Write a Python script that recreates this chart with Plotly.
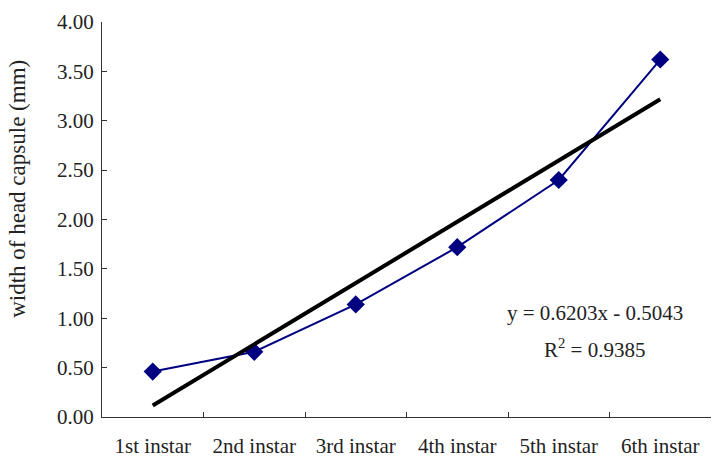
import plotly.graph_objects as go

categories = ["1st instar", "2nd instar", "3rd instar", "4th instar", "5th instar", "6th instar"]
widths = [0.46, 0.66, 1.14, 1.72, 2.40, 3.62]
slope = 0.6203
intercept = -0.5043
r2 = 0.9385
y_ticks = [0, 0.5, 1.0, 1.5, 2.0, 2.5, 3.0, 3.5, 4.0]

trend_x = [categories[0], categories[-1]]
trend_y = [slope * 1 + intercept, slope * len(categories) + intercept]

FONT = "Liberation Serif, Times New Roman, serif"
TXT = "#222"

fig = go.Figure()
fig.add_trace(go.Scatter(
    x=categories, y=widths, mode="lines+markers",
    line=dict(color="#000080", width=2),
    marker=dict(symbol="diamond", size=14, color="#000080"),
    showlegend=False,
))
fig.add_trace(go.Scatter(
    x=trend_x, y=trend_y, mode="lines",
    line=dict(color="black", width=4),
    showlegend=False,
))

fig.update_layout(
    width=721, height=468,
    margin=dict(l=102, r=10, t=17, b=51),
    paper_bgcolor="white", plot_bgcolor="white",
    font=dict(family=FONT, size=21, color=TXT),
    xaxis=dict(
        type="category", categoryorder="array", categoryarray=categories,
        range=[-0.5, len(categories) - 0.5], autorange=False,
        tickson="boundaries", ticks="inside", ticklen=5, tickcolor="#333",
        showline=True, linecolor="#333", linewidth=1, showgrid=False,
        zeroline=False, ticklabelstandoff=10,
        tickfont=dict(family=FONT, size=21, color=TXT),
    ),
    yaxis=dict(
        range=[0, 4], autorange=False, tickvals=y_ticks, tickformat=".2f",
        ticks="inside", ticklen=5, tickcolor="#333",
        showline=True, linecolor="#333", linewidth=1, showgrid=False,
        zeroline=False, ticklabelstandoff=3,
        tickfont=dict(family=FONT, size=21, color=TXT),
    ),
    annotations=[
        dict(text="width of head capsule (mm)", xref="paper", yref="paper",
             x=-0.1380, y=0.5775, textangle=-90, showarrow=False,
             font=dict(family=FONT, size=23, color=TXT),
             xanchor="center", yanchor="middle"),
        dict(text=f"y = {slope:.4f}x - {abs(intercept):.4f}",
             xref="paper", yref="paper", x=0.8095, y=0.2625, showarrow=False,
             font=dict(family=FONT, size=21, color=TXT),
             xanchor="center", yanchor="middle"),
        dict(text=f"R<sup>2</sup> = {r2:.4f}",
             xref="paper", yref="paper", x=0.8095, y=0.1725, showarrow=False,
             font=dict(family=FONT, size=21, color=TXT),
             xanchor="center", yanchor="middle"),
    ],
)

fig.write_html("out.html")
